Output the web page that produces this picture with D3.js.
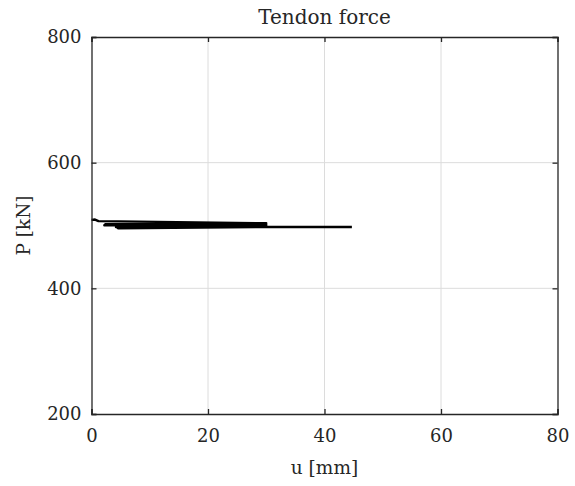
<!DOCTYPE html>
<html>
<head>
<meta charset="utf-8">
<script src="https://cdn.jsdelivr.net/npm/d3@7"></script>
<style>
  body { margin: 0; background: #fff; }
  svg text { font-family: "DejaVu Serif", serif; fill: #262626; }
</style>
</head>
<body>
<div id="chart"></div>
<script>
// tendon force vs displacement
var uVals = [0, 0.6, 1.2, 30, 29.8, 2.2, 2.4, 30, 29.8, 4.2, 4.4, 30, 29.8, 4.5, 4.7, 30, 29.8, 4.6, 4.8, 44.7];
var pVals = [509, 509.5, 507, 503.5, 502, 500.5, 502, 502, 500.5, 497.5, 499, 500.5, 499, 496, 497.5, 499, 497.5, 495.5, 497.5, 497.5];

var xTicks = [0, 20, 40, 60, 80];
var yTicks = [200, 400, 600, 800];

var W = 575, H = 486;
var margin = {top: 37, right: 17.5, bottom: 72, left: 91.5};
var width = W - margin.left - margin.right,
    height = H - margin.top - margin.bottom;
var fontSize = "18px";

var x = d3.scaleLinear().domain([0, 80]).range([0, width]);
var y = d3.scaleLinear().domain([200, 800]).range([height, 0]);

var svg = d3.select("#chart").append("svg")
    .attr("width", W)
    .attr("height", H);

var g = svg.append("g")
    .attr("transform", "translate(" + margin.left + "," + margin.top + ")");

// grid
g.selectAll(".gx").data(xTicks.slice(1, -1))
  .enter().append("line")
    .attr("x1", x).attr("x2", x)
    .attr("y1", 0).attr("y2", height)
    .attr("stroke", "#dcdcdc").attr("stroke-width", 1);

g.selectAll(".gy").data(yTicks.slice(1, -1))
  .enter().append("line")
    .attr("y1", y).attr("y2", y)
    .attr("x1", 0).attr("x2", width)
    .attr("stroke", "#dcdcdc").attr("stroke-width", 1);

// data
var pts = uVals.map(function(u, i) { return [u, pVals[i]]; });
var line = d3.line()
    .x(function(d) { return x(d[0]); })
    .y(function(d) { return y(d[1]); });

g.append("path")
    .datum(pts)
    .attr("d", line)
    .attr("fill", "none")
    .attr("stroke", "#000")
    .attr("stroke-width", 2.4)
    .attr("stroke-linejoin", "round");

// axes, MATLAB style: box with inward ticks
var tickLen = 5;
var xAxis = g.append("g")
    .attr("transform", "translate(0," + height + ")")
    .call(d3.axisBottom(x).tickValues(xTicks).tickSize(-tickLen).tickPadding(15));
var yAxis = g.append("g")
    .call(d3.axisLeft(y).tickValues(yTicks).tickSize(-tickLen).tickPadding(10));
g.append("g")
    .call(d3.axisTop(x).tickValues(xTicks).tickSize(-tickLen).tickFormat(""));
g.append("g")
    .attr("transform", "translate(" + width + ",0)")
    .call(d3.axisRight(y).tickValues(yTicks).tickSize(-tickLen).tickFormat(""));

g.selectAll("g").attr("font-family", null).attr("font-size", null);
g.selectAll(".domain").attr("stroke", "#262626").attr("stroke-width", 1.3);
g.selectAll(".tick line").attr("stroke", "#262626").attr("stroke-width", 1.3);
g.selectAll(".tick text")
    .style("font-size", fontSize)
    .attr("fill", "#262626");
xAxis.selectAll(".tick text").attr("dy", "0.71em");

// labels
svg.append("text")
    .attr("x", margin.left + width / 2)
    .attr("y", 24)
    .attr("text-anchor", "middle")
    .style("font-size", "20px")
    .text("Tendon force");

svg.append("text")
    .attr("x", margin.left + width / 2)
    .attr("y", 474)
    .attr("text-anchor", "middle")
    .style("font-size", "18.5px")
    .text("u [mm]");

svg.append("text")
    .attr("transform", "translate(30," + (margin.top + height / 2) + ") rotate(-90)")
    .attr("text-anchor", "middle")
    .style("font-size", "18.5px")
    .text("P [kN]");
</script>
</body>
</html>
